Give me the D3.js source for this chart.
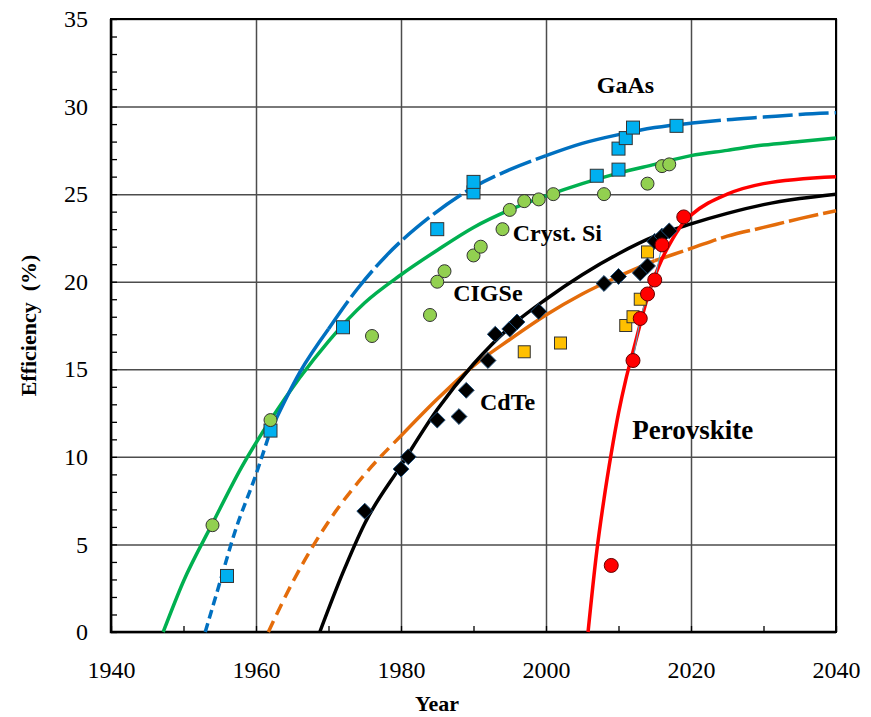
<!DOCTYPE html>
<html>
<head>
<meta charset="utf-8">
<script src="https://cdn.jsdelivr.net/npm/d3@7"></script>
<style>
body { margin: 0; background: #fff; }
svg text { font-family: "Liberation Serif", "Times New Roman", serif; fill: #000; }
</style>
</head>
<body>
<svg id="chart" width="871" height="717" font-family="Liberation Serif"></svg>
<script>
const svg = d3.select("#chart")
const serif = "'Liberation Serif', 'Times New Roman', serif"

// record cells, [year, efficiency %]
const gaasPts = [[1956, 3.2], [1962, 11.5], [1972, 17.4], [1985, 23.0], [1990, 25.1], [1990, 25.7],
    [2007, 26.05], [2010, 26.4], [2010, 27.6], [2011, 28.2], [2012, 28.8], [2018, 28.9]]
const siPts = [[1954, 6.1], [1962, 12.1], [1976, 16.9], [1984, 18.1], [1985, 20.0], [1986, 20.6],
    [1990, 21.5], [1991, 22.0], [1994, 23.0], [1995, 24.1], [1997, 24.6], [1999, 24.7],
    [2001, 25.0], [2008, 25.0], [2014, 25.6], [2016, 26.6], [2017, 26.7]]
const cigsPts = [[1997, 16.0], [2002, 16.5], [2011, 17.5], [2012, 18.0], [2013, 19.0], [2014, 21.7]]
const cdtePts = [[1975, 6.9], [1980, 9.3], [1981, 10.0], [1985, 12.1], [1988, 12.3], [1989, 13.8],
    [1992, 15.5], [1993, 17.0], [1995, 17.3], [1996, 17.7], [1999, 18.3], [2008, 19.9],
    [2010, 20.3], [2013, 20.5], [2014, 20.9], [2015, 22.3], [2016, 22.6], [2017, 22.9]]
const perovPts = [[2009, 3.8], [2012, 15.5], [2013, 17.9], [2014, 19.3], [2015, 20.1], [2016, 22.1], [2019, 23.7]]

// fitted trend curves
const gaasFit = [[1953, 0], [1955, 2.8], [1957, 5.6], [1960, 9.0], [1962, 11.5], [1966, 14.8], [1970, 17.3],
    [1974, 19.6], [1978, 21.5], [1984, 23.7], [1990, 25.4], [1995, 26.4], [2000, 27.2], [2005, 27.9],
    [2010, 28.4], [2015, 28.8], [2020, 29.05], [2025, 29.25], [2030, 29.4], [2035, 29.55], [2040, 29.65]]
const siFit = [[1947.2, 0], [1950, 2.9], [1954, 6.2], [1958, 9.4], [1962, 12.1], [1966, 14.5], [1970, 16.6],
    [1975, 18.8], [1980, 20.4], [1985, 21.8], [1990, 23.1], [1995, 24.1], [2000, 24.9], [2005, 25.6],
    [2010, 26.2], [2015, 26.7], [2020, 27.2], [2025, 27.5], [2030, 27.8], [2035, 28.0], [2040, 28.2]]
const cigsFit = [[1961.7, 0], [1965, 2.8], [1970, 6.3], [1975, 9.0], [1980, 11.2], [1985, 13.3], [1990, 15.2],
    [1995, 16.7], [2000, 18.1], [2005, 19.3], [2010, 20.3], [2015, 21.2], [2020, 21.9], [2025, 22.6],
    [2030, 23.1], [2035, 23.6], [2040, 24.05]]
const cdteFit = [[1968.8, 0], [1972, 3.4], [1975, 6.2], [1980, 9.5], [1985, 12.7], [1990, 15.3], [1995, 17.4],
    [2000, 19.0], [2005, 20.4], [2010, 21.6], [2015, 22.6], [2020, 23.3], [2025, 23.9], [2030, 24.4],
    [2035, 24.75], [2040, 25.0]]
const perovFit = [[2005.8, 0], [2007, 4.6], [2008, 7.6], [2009, 10.2], [2010, 12.5], [2011, 14.4], [2012, 16.0],
    [2013, 17.6], [2014, 19.1], [2015, 20.3], [2016, 21.3], [2017, 22.1], [2018, 22.8], [2019, 23.4],
    [2020, 23.8], [2025, 25.0], [2030, 25.6], [2040, 26.0]]

const xTicks = [1940, 1960, 1980, 2000, 2020, 2040]
const yTicks = [0, 5, 10, 15, 20, 25, 30, 35]

const plotL = 111, plotR = 836, plotT = 19, plotB = 632

const x = d3.scaleLinear().domain([1940, 2040]).range([plotL, plotR])
const y = d3.scaleLinear().domain([0, 35]).range([plotB, plotT])

// grid
svg.append("g")
    .attr("transform", `translate(0,${plotB})`)
    .call(d3.axisBottom(x).tickValues(xTicks).tickSize(-(plotB - plotT)).tickFormat(""))
    .call(g => g.select(".domain").remove())
    .selectAll("line").attr("stroke", "#4d4d4d").attr("stroke-width", 1.5)
svg.append("g")
    .attr("transform", `translate(${plotL},0)`)
    .call(d3.axisLeft(y).tickValues(yTicks).tickSize(-(plotR - plotL)).tickFormat(""))
    .call(g => g.select(".domain").remove())
    .selectAll("line").attr("stroke", "#4d4d4d").attr("stroke-width", 1.5)

// minor ticks, pointing inwards
svg.append("g")
    .attr("transform", `translate(0,${plotB})`)
    .call(d3.axisBottom(x).tickValues(d3.range(1940, 2041, 10)).tickSize(-6).tickFormat(""))
    .call(g => g.select(".domain").remove())
    .selectAll("line").attr("stroke", "#000").attr("stroke-width", 1.3)
svg.append("g")
    .attr("transform", `translate(${plotL},0)`)
    .call(d3.axisLeft(y).tickValues(d3.range(0, 36, 1)).tickSize(-6).tickFormat(""))
    .call(g => g.select(".domain").remove())
    .selectAll("line").attr("stroke", "#000").attr("stroke-width", 1.3)

// tick labels
svg.append("g")
    .attr("transform", `translate(0,${plotB})`)
    .call(d3.axisBottom(x).tickValues(xTicks).tickSize(0).tickPadding(29).tickFormat(d3.format("d")))
    .attr("font-family", serif).attr("font-size", 24)
    .call(g => g.select(".domain").remove())
    .selectAll("text").style("font-family", serif).attr("font-size", 24)
svg.append("g")
    .attr("transform", `translate(${plotL},0)`)
    .call(d3.axisLeft(y).tickValues(yTicks).tickSize(0).tickPadding(23))
    .attr("font-family", serif).attr("font-size", 24)
    .call(g => g.select(".domain").remove())
    .selectAll("text").style("font-family", serif).attr("font-size", 24)

// frame
svg.append("rect")
    .attr("x", plotL).attr("y", plotT)
    .attr("width", plotR - plotL).attr("height", plotB - plotT)
    .attr("fill", "none").attr("stroke", "#000").attr("stroke-width", 2)
svg.append("path")
    .attr("d", `M${plotL},${plotT}V${plotB}H${plotR}`)
    .attr("fill", "none").attr("stroke", "#000").attr("stroke-width", 2.5)

// trend curves, split where the dashing changes
const line = d3.line().x(d => x(d[0])).y(d => y(d[1])).curve(d3.curveMonotoneX)

const plot = svg.append("g")
function drawCurve(pts, color, pieces) {
    pieces.forEach(p => {
        plot.append("path")
            .datum(pts.filter(d => d[0] >= p[0] && d[0] <= p[1]))
            .attr("d", line)
            .attr("fill", "none")
            .attr("stroke", color)
            .attr("stroke-width", 3.5)
            .attr("stroke-dasharray", p[2])
    })
}

drawCurve(siFit, "#00B050", [[1940, 2040, null]])
drawCurve(gaasFit, "#0070C0", [[1953, 1962, "9,5"], [1962, 1970, null], [1970, 2000, "34,5"],
    [2000, 2020, null], [2020, 2040, "30,6"]])
drawCurve(cigsFit, "#E46C0A", [[1961, 1980, "12,7"], [1980, 2015, null], [2015, 2040, "30,5"]])
drawCurve(cdteFit, "#000000", [[1940, 2040, null]])
drawCurve(perovFit, "#FF0000", [[1940, 2040, null]])

// thin link between perovskite cells
plot.append("path")
    .datum(perovPts.filter(d => d[0] >= 2012 && d[0] <= 2016))
    .attr("d", d3.line().x(d => x(d[0])).y(d => y(d[1])))
    .attr("fill", "none").attr("stroke", "#4BACC6").attr("stroke-width", 1)

// markers
function squares(pts, fill, size) {
    plot.append("g").selectAll("rect")
        .data(pts).join("rect")
        .attr("x", d => x(d[0]) - size / 2)
        .attr("y", d => y(d[1]) - size / 2)
        .attr("width", size).attr("height", size)
        .attr("fill", fill).attr("stroke", "#333").attr("stroke-width", 1)
}
function circles(pts, fill, r, stroke) {
    plot.append("g").selectAll("circle")
        .data(pts).join("circle")
        .attr("cx", d => x(d[0])).attr("cy", d => y(d[1]))
        .attr("r", r)
        .attr("fill", fill).attr("stroke", stroke).attr("stroke-width", 1)
}

squares(gaasPts, "#00B0F0", 13)
circles(siPts, "#92D050", 6.5, "#333")
squares(cigsPts, "#FFC000", 12)

const diamond = d3.symbol().type(d3.symbolDiamond2).size(160)
plot.append("g").selectAll("path")
    .data(cdtePts).join("path")
    .attr("transform", d => `translate(${x(d[0])},${y(d[1])})`)
    .attr("d", diamond)
    .attr("fill", "#000").attr("stroke", "#1F4E79").attr("stroke-width", 1)

circles(perovPts, "#FF0000", 7, "#600")

// series labels
const labels = [
    { text: "GaAs", x: 2007.0, y: 30.8, size: 24 },
    { text: "Cryst. Si", x: 1995.4, y: 22.3, size: 24 },
    { text: "CIGSe", x: 1987.2, y: 18.9, size: 24 },
    { text: "CdTe", x: 1990.9, y: 12.7, size: 24 },
    { text: "Perovskite", x: 2011.9, y: 11.0, size: 27 }
]
svg.append("g").selectAll("text")
    .data(labels).join("text")
    .attr("x", d => x(d.x)).attr("y", d => y(d.y))
    .attr("font-size", d => d.size)
    .attr("font-weight", "bold")
    .text(d => d.text)

// axis titles
svg.append("text")
    .attr("x", 437).attr("y", 711)
    .attr("text-anchor", "middle")
    .attr("font-size", 22).attr("font-weight", "bold")
    .text("Year")
svg.append("text")
    .attr("transform", `translate(36,${(plotT + plotB) / 2}) rotate(-90)`)
    .attr("text-anchor", "middle")
    .attr("font-size", 22).attr("font-weight", "bold")
    .style("font-family", serif)
    .attr("xml:space", "preserve")
    .text("Efficiency  (%)")
</script>
</body>
</html>
